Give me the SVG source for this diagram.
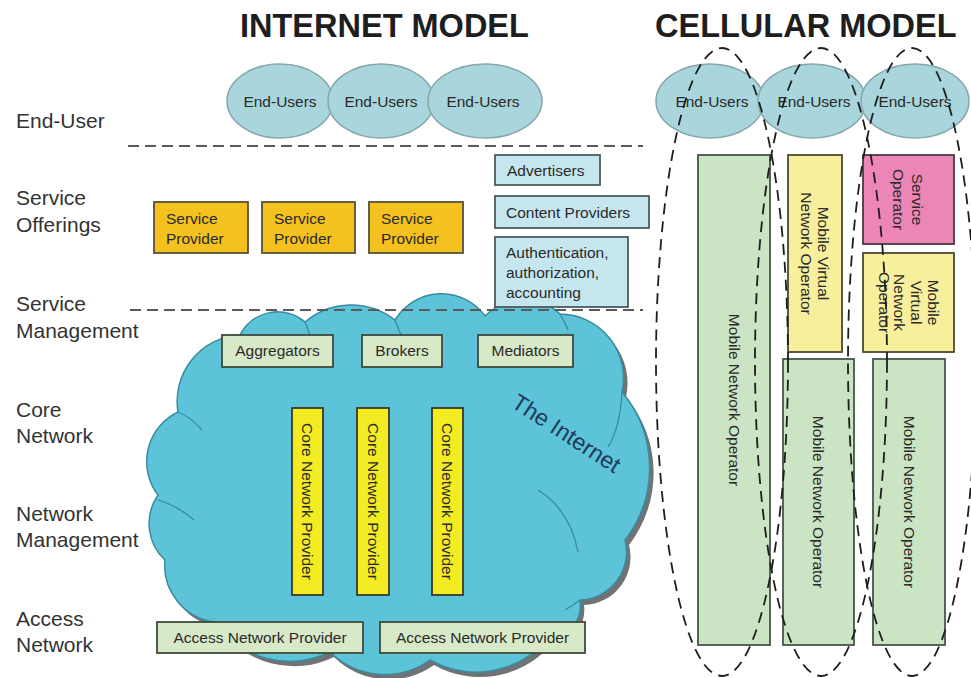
<svg xmlns="http://www.w3.org/2000/svg" width="971" height="678" viewBox="0 0 971 678">
  <style>
    .title { font-family: "Liberation Sans", Arial, sans-serif; font-weight: bold; font-size: 32.5px; fill: #1e1e1e; }
    .layer { font-family: "Liberation Sans", Arial, sans-serif; font-size: 21px; fill: #333; }
    .lbl { font-family: "Liberation Sans", Arial, sans-serif; font-size: 15.5px; fill: #2a2a2a; }
    .mid { text-anchor: middle; }
    .eu { fill: #a9d5dd; stroke: #86a6ab; stroke-width: 1.5; }
    .sp { fill: #f5c11f; stroke: #55523a; stroke-width: 1.8; }
    .blue { fill: #c6e6ef; stroke: #4a5c5e; stroke-width: 1.8; }
    .mgr { fill: #d8e9c8; stroke: #3f4a3a; stroke-width: 1.8; }
    .core { fill: #f4ec22; stroke: #3a3a2a; stroke-width: 1.8; }
    .mno { fill: #cbe4c4; stroke: #44564a; stroke-width: 1.8; }
    .mvno { fill: #f7ef9c; stroke: #4a4a30; stroke-width: 1.8; }
    .so { fill: #ec86b7; stroke: #4a3a40; stroke-width: 1.8; }
    .sep { fill: none; stroke: #5a5a5a; stroke-width: 2.2; stroke-dasharray: 11 6; }
    .grp { fill: none; stroke: #1e1e1e; stroke-width: 1.8; stroke-dasharray: 11 7; }
    .inner { fill: none; stroke: #3b8ba1; stroke-width: 1.3; }
  </style>

  <defs>
    <path id="cloud-outline" d="M178,412 A66.5,66.5 0 0 1 240,335 A42,42 0 0 1 305,322 A71,71 0 0 1 395,320 A54,54 0 0 1 485,316 A54,54 0 0 1 560,314 A64,64 0 0 1 622,392 A118,118 0 0 1 625,540 A48,48 0 0 1 580,600 A37,37 0 0 1 545,642 A94,94 0 0 1 430,660 A78,78 0 0 1 330,652 A91,91 0 0 1 215,622 A57,57 0 0 1 165,560 A50,50 0 0 1 158,495 A55,55 0 0 1 178,412 Z"/>
  </defs>

  <rect x="0" y="0" width="971" height="678" fill="#ffffff"/>

  <!-- headings -->
  <text class="title" x="240" y="37">INTERNET MODEL</text>
  <text class="title" x="655" y="37">CELLULAR MODEL</text>

  <!-- layer names -->
  <g id="layer-labels">
    <text class="layer" x="16" y="128">End-User</text>
    <text class="layer" x="16" y="205">Service</text>
    <text class="layer" x="16" y="232">Offerings</text>
    <text class="layer" x="16" y="311">Service</text>
    <text class="layer" x="16" y="338">Management</text>
    <text class="layer" x="16" y="417">Core</text>
    <text class="layer" x="16" y="443">Network</text>
    <text class="layer" x="16" y="521">Network</text>
    <text class="layer" x="16" y="547">Management</text>
    <text class="layer" x="16" y="626">Access</text>
    <text class="layer" x="16" y="652">Network</text>
  </g>

  <!-- internet cloud -->
  <g id="internet-cloud">
    <use href="#cloud-outline" transform="translate(4,5)" fill="#6f7374"/>
    <use href="#cloud-outline" fill="#5cc3d8" stroke="#3a8aa0" stroke-width="1.5"/>
    <!-- inner bump lines of the cloud -->
    <path class="inner" d="M178,412 Q192,418 202,430"/>
    <path class="inner" d="M158,500 Q178,506 194,520"/>
    <path class="inner" d="M305,322 Q309,332 312,340"/>
    <path class="inner" d="M395,320 Q398,328 401,335"/>
    <path class="inner" d="M560,314 Q565,322 568,330"/>
    <path class="inner" d="M622,392 Q620,428 608,447"/>
    <path class="inner" d="M538,490 Q570,510 578,552"/>
    <path class="inner" d="M580,600 Q572,606 565,610"/>
    <path class="inner" d="M330,652 Q326,642 322,634"/>
    <text transform="translate(562,440) rotate(33)" text-anchor="middle" font-family="Liberation Sans, Arial, sans-serif" font-size="23" fill="#1f3b58">The Internet</text>
  </g>

  <!-- internet end users -->
  <g id="inet-eu-1"><ellipse class="eu" cx="280" cy="101" rx="53" ry="37"/><text class="lbl mid" x="280" y="107">End-Users</text></g>
  <g id="inet-eu-2"><ellipse class="eu" cx="381" cy="101" rx="53" ry="37"/><text class="lbl mid" x="381" y="107">End-Users</text></g>
  <g id="inet-eu-3"><ellipse class="eu" cx="485" cy="101" rx="57" ry="37"/><text class="lbl mid" x="483" y="107">End-Users</text></g>

  <!-- service providers -->
  <g id="sp-1"><rect class="sp" x="154" y="202" width="94" height="51"/><text class="lbl" x="166" y="224">Service</text><text class="lbl" x="166" y="244">Provider</text></g>
  <g id="sp-2"><rect class="sp" x="262" y="202" width="93" height="51"/><text class="lbl" x="274" y="224">Service</text><text class="lbl" x="274" y="244">Provider</text></g>
  <g id="sp-3"><rect class="sp" x="369" y="202" width="94" height="51"/><text class="lbl" x="381" y="224">Service</text><text class="lbl" x="381" y="244">Provider</text></g>

  <!-- third parties -->
  <g id="advertisers"><rect class="blue" x="495" y="155" width="105" height="30"/><text class="lbl" x="507" y="176">Advertisers</text></g>
  <g id="content-providers"><rect class="blue" x="495" y="196" width="154" height="32"/><text class="lbl" x="506" y="218">Content Providers</text></g>
  <g id="aaa"><rect class="blue" x="495" y="237" width="133" height="70"/><text class="lbl" x="506" y="258">Authentication,</text><text class="lbl" x="506" y="278">authorization,</text><text class="lbl" x="506" y="298">accounting</text></g>

  <!-- service management -->
  <g id="aggregators"><rect class="mgr" x="222" y="335" width="111" height="32"/><text class="lbl mid" x="277.5" y="356">Aggregators</text></g>
  <g id="brokers"><rect class="mgr" x="362" y="335" width="80" height="32"/><text class="lbl mid" x="402" y="356">Brokers</text></g>
  <g id="mediators"><rect class="mgr" x="478" y="335" width="95" height="32"/><text class="lbl mid" x="525.5" y="356">Mediators</text></g>

  <!-- core network providers -->
  <g id="core-1"><rect class="core" x="292" y="408" width="31" height="187"/><text class="lbl mid" transform="translate(307.5,501.5) rotate(90)" y="5.5">Core Network Provider</text></g>
  <g id="core-2"><rect class="core" x="357" y="408" width="32" height="187"/><text class="lbl mid" transform="translate(373,501.5) rotate(90)" y="5.5">Core Network Provider</text></g>
  <g id="core-3"><rect class="core" x="432" y="408" width="31" height="187"/><text class="lbl mid" transform="translate(447.5,501.5) rotate(90)" y="5.5">Core Network Provider</text></g>

  <!-- access networks -->
  <g id="access-1"><rect class="mgr" x="157" y="622" width="206" height="31"/><text class="lbl mid" x="260" y="643">Access Network Provider</text></g>
  <g id="access-2"><rect class="mgr" x="380" y="622" width="205" height="31"/><text class="lbl mid" x="482.5" y="643">Access Network Provider</text></g>

  <!-- cellular end users -->
  <g id="cell-eu-1"><ellipse class="eu" cx="710" cy="101" rx="54" ry="37"/><text class="lbl mid" x="712" y="107">End-Users</text></g>
  <g id="cell-eu-2"><ellipse class="eu" cx="812" cy="101" rx="54" ry="37"/><text class="lbl mid" x="814" y="107">End-Users</text></g>
  <g id="cell-eu-3"><ellipse class="eu" cx="915" cy="101" rx="54" ry="37"/><text class="lbl mid" x="915" y="107">End-Users</text></g>

  <!-- operators -->
  <g id="mno-1"><rect class="mno" x="698" y="155" width="72" height="490"/><text class="lbl mid" transform="translate(734,400) rotate(90)" y="5.5">Mobile Network Operator</text></g>
  <g id="mvno-1"><rect class="mvno" x="788" y="155" width="54" height="197"/>
    <text class="lbl mid" transform="translate(815,253.5) rotate(90)"><tspan x="0" y="-3">Mobile Virtual</tspan><tspan x="0" y="14">Network Operator</tspan></text></g>
  <g id="service-operator"><rect class="so" x="863" y="155" width="91" height="89"/>
    <text class="lbl mid" transform="translate(908,199.5) rotate(90)"><tspan x="0" y="-4">Service</tspan><tspan x="0" y="15">Operator</tspan></text></g>
  <g id="mvno-2"><rect class="mvno" x="863" y="253" width="91" height="99"/>
    <text class="lbl mid" transform="translate(908,302.5) rotate(90)"><tspan x="0" y="-20">Mobile</tspan><tspan x="0" y="-3">Virtual</tspan><tspan x="0" y="14">Network</tspan><tspan x="0" y="29">Operator</tspan></text></g>
  <g id="mno-2"><rect class="mno" x="783" y="359" width="71" height="286"/><text class="lbl mid" transform="translate(818,502) rotate(90)" y="5.5">Mobile Network Operator</text></g>
  <g id="mno-3"><rect class="mno" x="873" y="359" width="72" height="286"/><text class="lbl mid" transform="translate(909,502) rotate(90)" y="5.5">Mobile Network Operator</text></g>

  <!-- layer separators and operator groupings -->
  <g id="connectors">
    <line class="sep" x1="128" y1="146" x2="643" y2="146"/>
    <line class="sep" x1="130" y1="310" x2="643" y2="310"/>
    <ellipse class="grp" cx="722" cy="362" rx="66" ry="314"/>
    <ellipse class="grp" cx="821" cy="362" rx="66" ry="314"/>
    <ellipse class="grp" cx="912" cy="362" rx="64" ry="314"/>
  </g>
</svg>
